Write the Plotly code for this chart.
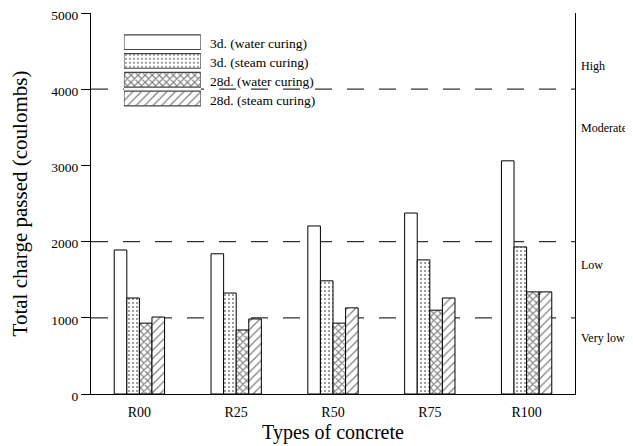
import plotly.graph_objects as go

categories = ["R00", "R25", "R50", "R75", "R100"]
series_names = ["3d. (water curing)", "3d. (steam curing)", "28d. (water curing)", "28d. (steam curing)"]
water_3d = [1890, 1840, 2205, 2375, 3060]
steam_3d = [1260, 1325, 1485, 1760, 1930]
water_28d = [930, 840, 930, 1100, 1340]
steam_28d = [1010, 985, 1130, 1260, 1340]
y_ticks = [0, 1000, 2000, 3000, 4000, 5000]
limits = [1000, 2000, 4000]
zone_labels = ["High", "Moderate", "Low", "Very low"]
zone_label_y = [4300, 3490, 1690, 735]

values = [water_3d, steam_3d, water_28d, steam_28d]
patterns = ["", ".", "x", "/"]
sizes = [6, 4, 5, 6]
solid = [0.2, 0.2, 0.4, 0.2]
FONT = "Liberation Serif"

# page body has an 8px margin: compensate so the plot area lands where the reference has it
OFF = 8

fig = go.Figure()
for name, vals, pat, sz, so in zip(series_names, values, patterns, sizes, solid):
    fig.add_trace(go.Bar(
        x=categories, y=vals, name=name, showlegend=False,
        marker=dict(color="white", line=dict(color="black", width=1),
                    pattern=dict(shape=pat, fgcolor="black", bgcolor="white",
                                 size=sz, solidity=so)),
    ))

# custom legend drawn as horizontal bars in an inset axis
legend_rows_y = [0.921, 0.871, 0.820, 0.770]
for i, (name, pat, sz, so) in enumerate(zip(series_names, patterns, sizes, solid)):
    fig.add_trace(go.Bar(
        x=[1], y=[i], orientation="h", xaxis="x2", yaxis="y2", showlegend=False,
        width=0.78, hoverinfo="skip",
        marker=dict(color="white", line=dict(color="#444", width=1.2),
                    pattern=dict(shape=pat, fgcolor="black", bgcolor="white",
                                 size=sz, solidity=so)),
    ))
    fig.add_annotation(x=0.242, y=legend_rows_y[i], xref="paper", yref="paper", text=name,
                       showarrow=False, xanchor="left", yanchor="middle",
                       font=dict(family=FONT, size=13.5, color="black"))

for v in limits:
    fig.add_shape(type="line", xref="paper", x0=0, x1=1, yref="y", y0=v, y1=v,
                  line=dict(color="#333", width=1.2, dash="17px,15px"), layer="below")

for lab, yy in zip(zone_labels, zone_label_y):
    fig.add_annotation(x=1.008, y=yy, xref="paper", yref="y", text=lab, showarrow=False,
                       xanchor="left", yanchor="middle",
                       font=dict(family=FONT, size=12, color="black"))

fig.update_layout(
    width=633, height=446,
    margin=dict(l=91 - OFF, r=58 + OFF, t=13 - OFF, b=52 + OFF, autoexpand=False),
    paper_bgcolor="white", plot_bgcolor="white",
    barmode="group", bargap=0.48, bargroupgap=0,
    font=dict(family=FONT, color="black", size=14),
    xaxis=dict(range=[-0.5, 4.5], showline=True, linecolor="black", linewidth=1,
               ticks="", showgrid=False, zeroline=False, automargin=False,
               ticklabelstandoff=5,
               title=dict(text="Types of concrete", font=dict(family=FONT, size=20), standoff=6),
               tickfont=dict(family=FONT, size=14)),
    yaxis=dict(range=[0, 5000], tickvals=y_ticks, showline=True, linecolor="black", linewidth=1,
               mirror=True, ticks="outside", ticklen=9, tickcolor="black", showgrid=False,
               zeroline=False, automargin=False, ticklabeloverflow="allow", ticklabelshift=2,
               title=dict(text="Total charge passed (coulombs)", font=dict(family=FONT, size=21), standoff=36),
               tickfont=dict(family=FONT, size=13.5)),
    xaxis2=dict(domain=[0.068, 0.227], range=[0, 1], visible=False, anchor="y2"),
    yaxis2=dict(domain=[0.751, 0.948], range=[3.5, -0.5], visible=False, anchor="x2"),
)

fig.write_html("out.html")
